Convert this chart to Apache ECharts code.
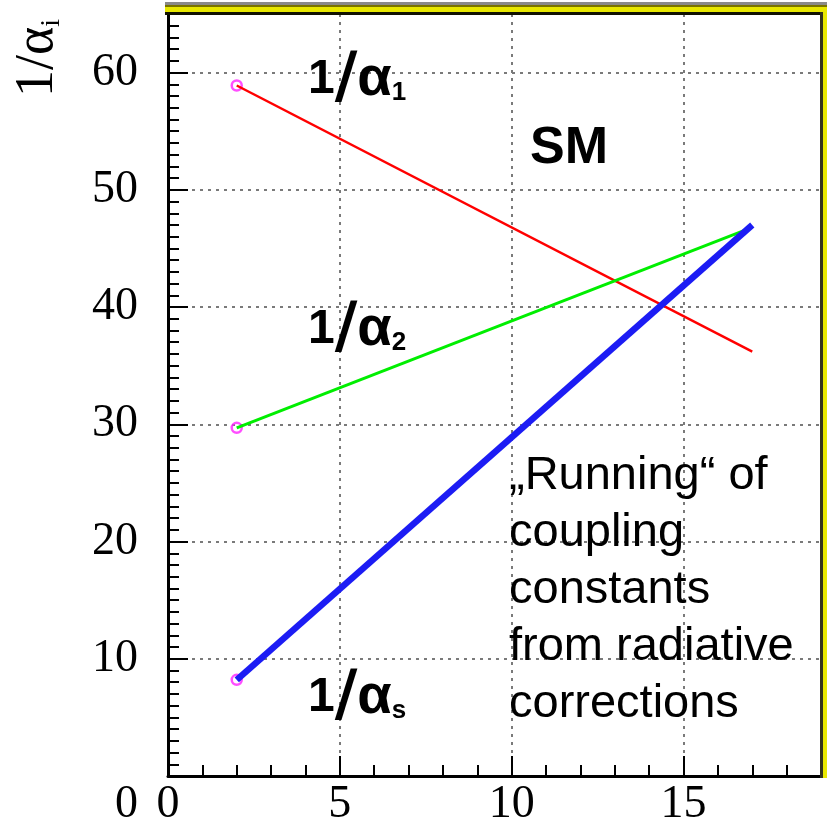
<!DOCTYPE html>
<html><head><meta charset="utf-8">
<script src="https://cdn.jsdelivr.net/npm/echarts@6/dist/echarts.min.js"></script>
<style>html,body{margin:0;padding:0;background:#fff}#c{width:827px;height:829px}</style>
</head><body><div id="c"></div>
<script>
// x values (start, end) of each running coupling line
const xVals = [2, 17];
// 1/alpha_1, 1/alpha_2, 1/alpha_s at those x values
const invAlpha1 = [58.9, 36.2];
const invAlpha2 = [29.7, 46.8];
const invAlphaS = [8.2, 47.0];
// tick labels
const xTickLabels = [0, 5, 10, 15];
const yTickLabels = [0, 10, 20, 30, 40, 50, 60];

const serif = 'Liberation Serif';
const sans = 'Liberation Sans';

const pts = arr => xVals.map((x, i) => [x, arr[i]]);
const startPts = [invAlpha1, invAlpha2, invAlphaS].map(a => [xVals[0], a[0]]);

const chart = echarts.init(document.getElementById('c'), null, {renderer: 'canvas'});

const gridLine = {show: true, lineStyle: {color: '#7a7a7a', width: 2, type: [3, 5]}};

const labelRich = () => ({
  a: {fontFamily: sans, fontWeight: 'bold', fontSize: 48, color: '#000'},
  s: {fontFamily: 'DejaVu Sans', fontWeight: 'bold', fontSize: 62, color: '#000'},
  g: {fontFamily: sans, fontWeight: 'bold', fontSize: 56, color: '#000'},
  b: {fontFamily: sans, fontWeight: 'bold', fontSize: 26, color: '#000', padding: [26, 0, 0, 0]}
});

chart.setOption({
  animation: false,
  backgroundColor: '#fff',
  grid: {left: 168, top: 14, right: 6, bottom: 53, containLabel: false},
  xAxis: {
    type: 'value', min: 0, max: 19, interval: 5,
    axisLine: {show: true, onZero: false, lineStyle: {color: '#000', width: 3}},
    axisTick: {show: true, inside: true, length: 20, lineStyle: {color: '#000', width: 2}},
    minorTick: {show: true, splitNumber: 5, length: 11, lineStyle: {color: '#000', width: 2}},
    splitLine: gridLine,
    axisLabel: {
      margin: 6, fontFamily: serif, fontSize: 46, color: '#000', showMaxLabel: false,
      formatter: v => xTickLabels.includes(v) ? String(v) : ''
    }
  },
  yAxis: {
    type: 'value', min: 0, max: 65, interval: 10,
    axisLine: {show: true, onZero: false, lineStyle: {color: '#000', width: 3}},
    axisTick: {show: true, inside: true, length: 20, lineStyle: {color: '#000', width: 2}},
    minorTick: {show: true, splitNumber: 10, length: 11, lineStyle: {color: '#000', width: 2}},
    splitLine: gridLine,
    axisLabel: {
      margin: 30, fontFamily: serif, fontSize: 46, color: '#000', showMaxLabel: false,
      formatter: v => v === 0 ? '{z|0}' : (yTickLabels.includes(v) ? String(v) : ''),
      rich: {z: {fontFamily: serif, fontSize: 46, color: '#000', padding: [58, 0, 0, 0]}}
    }
  },
  series: [
    {
      type: 'scatter', data: startPts, symbol: 'circle', symbolSize: 10, z: 1,
      itemStyle: {color: 'rgba(255,255,255,0)', borderColor: '#ff22ff', borderWidth: 2.5}
    },
    {type: 'line', data: pts(invAlpha1), showSymbol: false, z: 2,
     lineStyle: {color: '#ff0000', width: 2.5}},
    {type: 'line', data: pts(invAlpha2), showSymbol: false, z: 3,
     lineStyle: {color: '#00ee00', width: 3}},
    {type: 'line', data: pts(invAlphaS), showSymbol: false, z: 4,
     lineStyle: {color: '#1c1cf4', width: 6.5}}
  ],
  graphic: [
    // frame (top & right yellow border)
    {type: 'rect', z: 100, shape: {x: 165, y: 2, width: 662, height: 3}, style: {fill: '#8a8a8a'}},
    {type: 'rect', z: 100, shape: {x: 165, y: 5, width: 662, height: 2}, style: {fill: '#7a7400'}},
    {type: 'rect', z: 100, shape: {x: 165, y: 7, width: 662, height: 5}, style: {fill: '#e8e800'}},
    {type: 'rect', z: 100, shape: {x: 165, y: 12, width: 656, height: 3}, style: {fill: '#111100'}},
    {type: 'rect', z: 100, shape: {x: 820, y: 12, width: 3, height: 766}, style: {fill: '#33331c'}},
    {type: 'rect', z: 100, shape: {x: 823, y: 7, width: 4, height: 771}, style: {fill: '#e8e800'}},
    // y axis title
    {type: 'text', z: 100, x: 38, y: 58, rotation: Math.PI / 2,
     style: {text: '1/α{s|i}', fontFamily: serif, fontSize: 54, fill: '#000', align: 'center', verticalAlign: 'middle',
       rich: {s: {fontFamily: serif, fontSize: 28, fill: '#000', padding: [28, 0, 0, 0]}}}},
    // curve labels
    {type: 'text', z: 100, x: 308, y: 80,
     style: {text: '{a|1}{s|/}{g|α}{b|1}', align: 'left', verticalAlign: 'middle', rich: labelRich()}},
    {type: 'text', z: 100, x: 308, y: 330,
     style: {text: '{a|1}{s|/}{g|α}{b|2}', align: 'left', verticalAlign: 'middle', rich: labelRich()}},
    {type: 'text', z: 100, x: 308, y: 698,
     style: {text: '{a|1}{s|/}{g|α}{b|s}', align: 'left', verticalAlign: 'middle', rich: labelRich()}},
    {type: 'text', z: 100, x: 530, y: 149,
     style: {text: 'SM', fontFamily: sans, fontWeight: 'bold', fontSize: 52, fill: '#000', align: 'left', verticalAlign: 'middle'}},
    {type: 'text', z: 100, x: 509, y: 448,
     style: {text: '„Running“ of\ncoupling\nconstants\nfrom radiative\ncorrections',
       fontFamily: sans, fontSize: 47, lineHeight: 57, fill: '#000', align: 'left', verticalAlign: 'top'}}
  ]
});
</script>
</body></html>
